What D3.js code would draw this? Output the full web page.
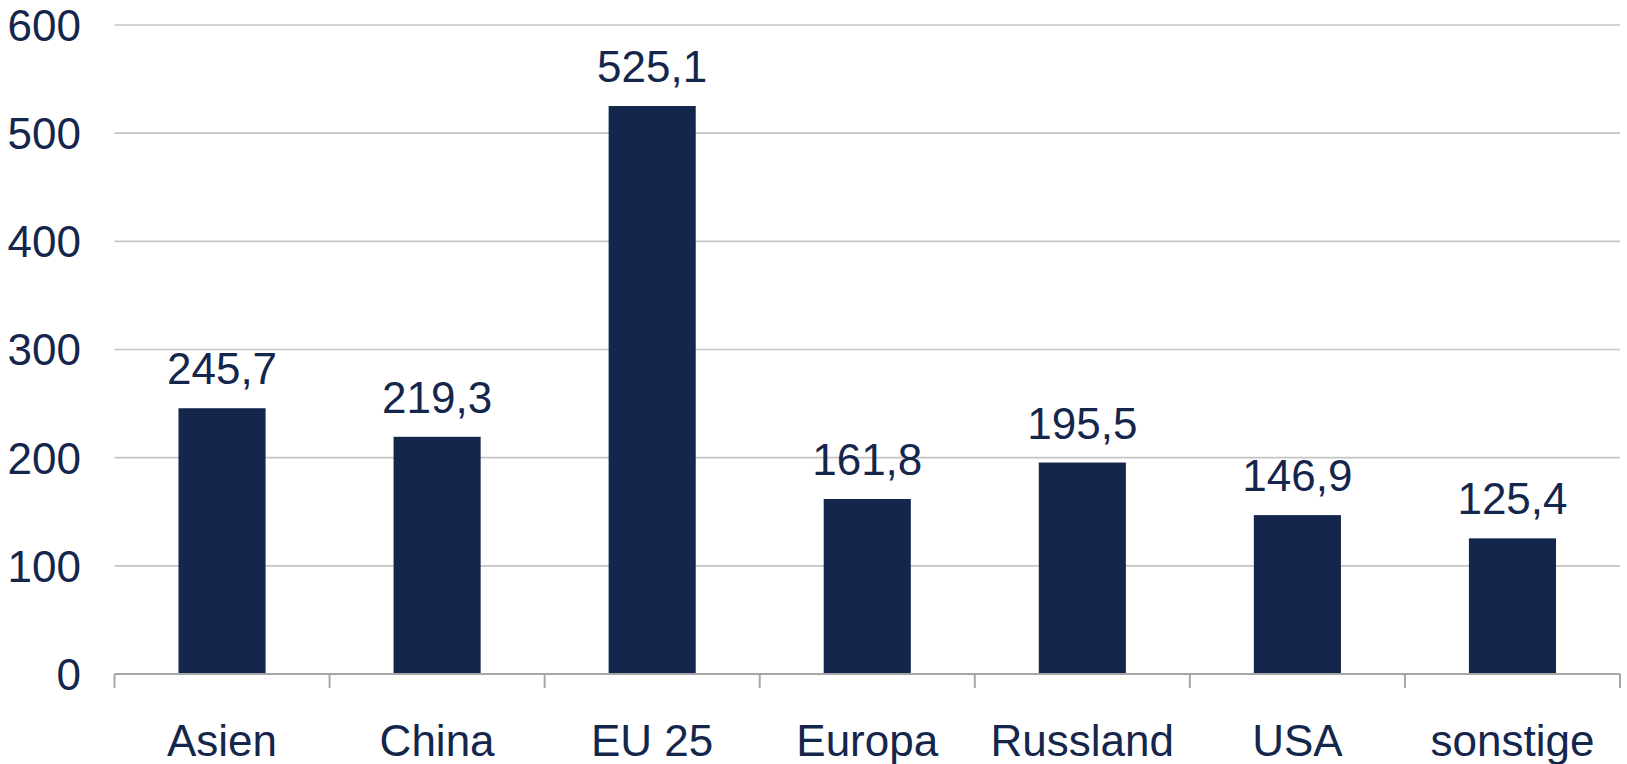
<!DOCTYPE html>
<html><head><meta charset="utf-8">
<script src="https://cdn.jsdelivr.net/npm/d3@7"></script>
<style>
html,body{margin:0;padding:0;background:#fff;}
svg{display:block;}
text{font-family:"Liberation Sans",Arial,sans-serif;fill:#15264D;}
</style></head>
<body>
<script>
const categories = ["Asien","China","EU 25","Europa","Russland","USA","sonstige"];
const values = [245.7,219.3,525.1,161.8,195.5,146.9,125.4];
const valueLabels = ["245,7","219,3","525,1","161,8","195,5","146,9","125,4"];
const yTicks = [0,100,200,300,400,500,600];

const W = 1627, H = 764;
const mLeft = 114.5, mRight = 1620, mTop = 25, mBottom = 674;
const svg = d3.select("body").append("svg").attr("width", W).attr("height", H);

const x = d3.scaleBand().domain(categories).range([mLeft, mRight]).padding(0);
const y = d3.scaleLinear().domain([0, 600]).range([mBottom, mTop]);
const barW = x.bandwidth() * 0.405;
const color = "#15264D";

// gridlines
svg.append("g").selectAll("line").data(yTicks.filter(d => d > 0)).join("line")
  .attr("x1", mLeft).attr("x2", mRight)
  .attr("y1", d => y(d)).attr("y2", d => y(d))
  .attr("stroke", "#c4c4c4").attr("stroke-width", 1.6);

// y labels
svg.append("g").selectAll("text").data(yTicks).join("text")
  .attr("x", 81).attr("y", d => y(d)).attr("dy", "0.36em")
  .attr("text-anchor", "end").attr("font-size", 44)
  .text(d => d);

// bars
svg.append("g").selectAll("rect").data(values).join("rect")
  .attr("x", (d, i) => x(categories[i]) + (x.bandwidth() - barW) / 2)
  .attr("width", barW)
  .attr("y", d => y(d))
  .attr("height", d => y(0) - y(d))
  .attr("fill", color);

// value labels
svg.append("g").selectAll("text").data(values).join("text")
  .attr("x", (d, i) => x(categories[i]) + x.bandwidth() / 2)
  .attr("y", d => y(d) - 24)
  .attr("text-anchor", "middle").attr("font-size", 44)
  .text((d, i) => valueLabels[i]);

// x axis
const xAxis = svg.append("g");
xAxis.append("line").attr("x1", mLeft).attr("x2", mRight)
  .attr("y1", y(0)).attr("y2", y(0))
  .attr("stroke", "#a6a6a6").attr("stroke-width", 2);
const tickPos = categories.map(c => x(c)).concat([x(categories[categories.length - 1]) + x.bandwidth()]);
xAxis.selectAll("line.tick").data(tickPos).join("line").attr("class", "tick")
  .attr("x1", d => d).attr("x2", d => d)
  .attr("y1", y(0)).attr("y2", y(0) + 14)
  .attr("stroke", "#a6a6a6").attr("stroke-width", 2);
xAxis.selectAll("text").data(categories).join("text")
  .attr("x", d => x(d) + x.bandwidth() / 2)
  .attr("y", 755.5)
  .attr("text-anchor", "middle").attr("font-size", 44)
  .text(d => d);
</script>
</body></html>
